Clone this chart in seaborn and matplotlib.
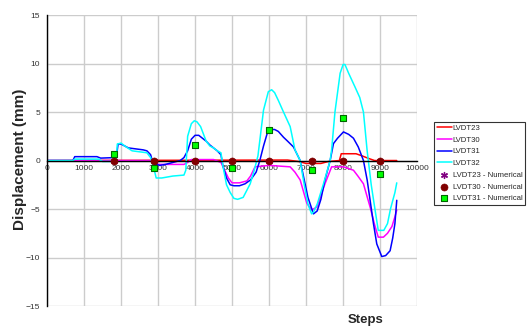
import matplotlib
matplotlib.use("Agg")
import matplotlib.pyplot as plt
import seaborn as sns
import numpy as np
import pandas as pd

# === data ===
lvdt23_x = [0, 6500, 6800, 7000, 7400, 7600, 7900, 7950, 8350, 8500, 8700, 8850, 9450]
lvdt23_y = [0, 0.05, -0.1, -0.3, -0.3, -0.1, 0.0, 0.7, 0.7, 0.5, 0.2, 0.0, 0.0]

lvdt30_x = [0, 2800, 2900, 3000, 3700, 3800, 3900, 4500, 4700, 4800, 4900, 5000, 5200,
            5400, 5500, 5620, 6000, 6570, 6700, 6840, 7020, 7150, 7290, 7400, 7510, 7690,
            8010, 8280, 8400, 8550, 8730, 8850, 8950, 9090, 9200, 9320, 9400, 9450]
lvdt30_y = [0, 0, -0.2, -0.4, -0.4, -0.2, 0.1, 0.1, -0.2, -1.0, -1.8, -2.3, -2.3,
            -2.1, -1.6, -0.65, -0.5, -0.65, -1.2, -2.0, -4.4, -5.1, -4.8, -3.6, -2.4, -0.65,
            -0.65, -1.0, -1.6, -2.4, -4.8, -6.6, -7.9, -7.9, -7.5, -6.8, -5.8, -5.1]

lvdt31_x = [0, 700, 750, 1350, 1450, 1800, 1880, 1920, 2000, 2100, 2200, 2400, 2600, 2700,
            2800, 2850, 2950, 3050, 3200, 3400, 3600, 3700, 3800, 3900, 4000, 4100, 4200,
            4300, 4400, 4500, 4600, 4700, 4750, 4850, 4950, 5050, 5200, 5350, 5500, 5650,
            5750, 5850, 5950, 6030, 6150, 6250, 6390, 6500, 6660, 6840, 6950, 7050, 7200,
            7300, 7400, 7510, 7650, 7740, 7850, 8010, 8150, 8280, 8410, 8550, 8650, 8730,
            8820, 8910, 9045, 9150, 9270, 9340, 9400, 9450]
lvdt31_y = [0, 0, 0.4, 0.4, 0.25, 0.3, 0.5, 1.7, 1.7, 1.5, 1.3, 1.2, 1.1, 1.0,
            0.6, -0.1, -0.4, -0.5, -0.4, -0.2, 0.0, 0.3, 1.0, 2.2, 2.6, 2.6, 2.3,
            2.0, 1.6, 1.3, 1.0, 0.6, -0.5, -1.8, -2.5, -2.6, -2.6, -2.4, -2.0, -1.2,
            0.0, 1.5, 2.8, 3.2, 3.2, 3.0, 2.4, 2.0, 1.4, 0.0, -2.0, -3.8, -5.5,
            -5.2, -4.0, -2.0, 0.0, 1.75, 2.3, 2.95, 2.7, 2.3, 1.4, 0.0, -2.0, -4.1,
            -6.5, -8.6, -9.9, -9.8, -9.3, -8.0, -6.5, -4.1]

lvdt32_x = [0, 700, 750, 1400, 1500, 1800, 1870, 1900, 2000, 2100, 2300, 2500, 2700, 2800,
            2900, 2950, 3100, 3400, 3700, 3750, 3800, 3900, 3980, 4050, 4150, 4300, 4400,
            4500, 4600, 4700, 4750, 4850, 4950, 5050, 5150, 5300, 5490, 5600, 5700, 5850,
            5980, 6070, 6150, 6250, 6390, 6570, 6700, 6840, 6950, 7050, 7150, 7200, 7300,
            7470, 7650, 7690, 7780, 7920, 8000, 8050, 8150, 8320, 8450, 8550, 8650, 8760,
            8860, 8950, 9100, 9200, 9280, 9350, 9400, 9450]
lvdt32_y = [0, 0, 0.15, 0.15, -0.1, -0.1, 0.0, 1.7, 1.8, 1.5, 1.0, 0.9, 0.8, 0.3,
            -1.0, -1.8, -1.8, -1.6, -1.5, -1.0, 2.5, 3.8, 4.1, 4.0, 3.5, 2.0, 1.5,
            1.3, 1.0, 0.8, -0.5, -2.5, -3.3, -3.9, -4.0, -3.8, -2.4, -1.0, 0.5, 5.2,
            7.1, 7.3, 7.0, 6.2, 5.0, 3.5, 1.1, 0.0, -2.5, -4.5, -5.5, -5.3, -4.5,
            -2.4, 0.0, 1.1, 5.0, 9.0, 9.9, 9.9, 9.0, 7.6, 6.5, 5.0, 1.0, -2.5,
            -5.0, -7.2, -7.2, -6.5, -5.0, -4.0, -3.3, -2.3]

num_steps = [1800, 2900, 4000, 5000, 6000, 7150, 8000, 9000]
num23 = [0, 0, 0, 0, 0, 0, 0, 0]
num30 = [0, 0, 0, 0, 0, 0, 0, 0]
num31 = [0.7, -0.75, 1.65, -0.75, 3.2, -1.0, 4.4, -1.35]

# === plot ===
sns.set_style("white")
plt.rcParams["font.family"] = ["Liberation Sans", "DejaVu Sans"]

fig = plt.figure(figsize=(5.28, 3.31), dpi=100)
ax = fig.add_axes([0.089, 0.0755, 0.701, 0.879])

sns.lineplot(x=lvdt23_x, y=lvdt23_y, color="#FF0000", lw=1.1, sort=False, estimator=None, ax=ax, label="LVDT23")
sns.lineplot(x=lvdt30_x, y=lvdt30_y, color="#FF00FF", lw=1.1, sort=False, estimator=None, ax=ax, label="LVDT30")
sns.lineplot(x=lvdt31_x, y=lvdt31_y, color="#0000FF", lw=1.1, sort=False, estimator=None, ax=ax, label="LVDT31")
sns.lineplot(x=lvdt32_x, y=lvdt32_y, color="#00FFFF", lw=1.1, sort=False, estimator=None, ax=ax, label="LVDT32")
sns.scatterplot(x=num_steps, y=num23, marker=(6, 2, 0), s=18, color="#800080", linewidth=1,
                ax=ax, label="LVDT23 - Numerical", zorder=4)
sns.scatterplot(x=num_steps, y=num30, marker="o", s=26, color="#800000", edgecolor="#800000",
                ax=ax, label="LVDT30 - Numerical", zorder=5)
sns.scatterplot(x=num_steps, y=num31, marker="s", s=20, color="#00FF00", edgecolor="#006600",
                linewidth=0.8, ax=ax, label="LVDT31 - Numerical", zorder=5)

ax.set_xlim(0, 10000)
ax.set_ylim(-15, 15)
ax.set_xticks(np.arange(0, 10001, 1000))
ax.set_yticks(np.arange(-15, 16, 5))
ax.grid(True, color="#CCCCCC", lw=1)
ax.set_axisbelow(True)

# Excel style: x axis crosses at zero
ax.spines["bottom"].set_position(("data", 0))
ax.spines["bottom"].set_color("black")
ax.spines["bottom"].set_linewidth(1)
ax.spines["bottom"].set_zorder(3)
ax.spines["left"].set_color("black")
ax.spines["left"].set_linewidth(1)
ax.spines["top"].set_visible(False)
ax.spines["right"].set_visible(False)
ax.tick_params(axis="both", labelsize=6, labelcolor="#333333", length=3, width=0.8, color="black", pad=2)
ax.tick_params(axis="x", direction="inout", length=3)
ax.set_xlabel("")
ax.set_ylabel("")

fig.text(0.038, 0.52, "Displacement (mm)", rotation=90, fontsize=11, fontweight="bold",
         ha="center", va="center")
fig.text(0.693, 0.033, "Steps", fontsize=9.5, fontweight="bold", ha="center", va="center")

handles, labels = ax.get_legend_handles_labels()
leg = ax.legend(handles, labels, loc="upper left", bbox_to_anchor=(0.822, 0.632),
                bbox_transform=fig.transFigure, fontsize=5.6, frameon=True, fancybox=False,
                edgecolor="black", borderpad=0.35, labelspacing=0.55, handlelength=1.9,
                handletextpad=0.15, borderaxespad=0)
leg.get_frame().set_linewidth(0.8)

fig.savefig("out.png", dpi=100)
